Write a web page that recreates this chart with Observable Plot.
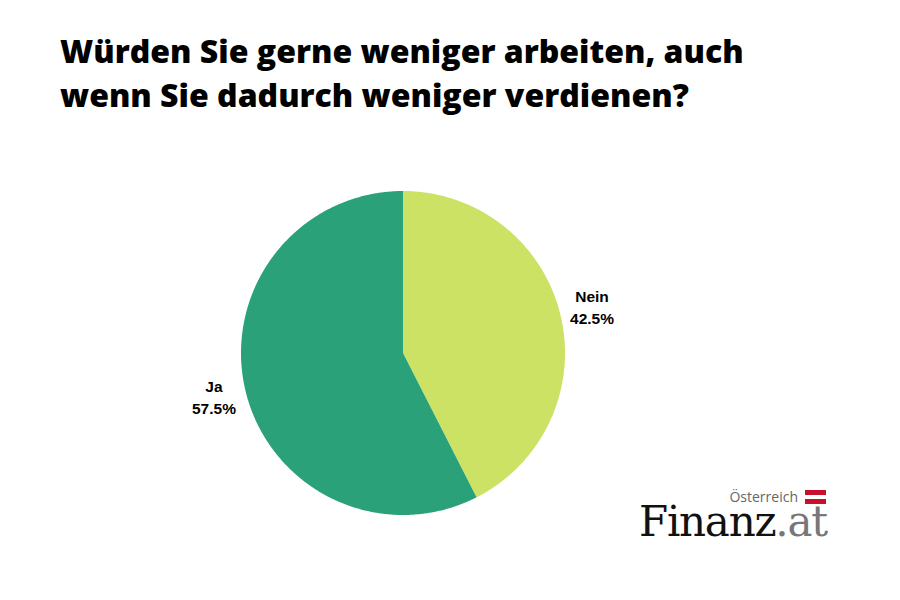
<!DOCTYPE html>
<html>
<head>
<meta charset="utf-8">
<script src="https://cdn.jsdelivr.net/npm/d3@7"></script>
<script src="https://cdn.jsdelivr.net/npm/@observablehq/plot@0.6"></script>
<style>
  html, body { margin: 0; padding: 0; background: #fff; }
  body { position: relative; width: 900px; height: 600px; overflow: hidden; }
  #title {
    position: absolute; left: 60px; top: 29px; margin: 0;
    font: 800 32px/44px "Open Sans", sans-serif; color: #000;
  }
  #chart { position: absolute; left: 0; top: 130px; }
  #chart svg { display: block; }
  #land { position: absolute; right: 102px; top: 489px; font: 14px/16px "Open Sans", sans-serif; color: #666; }
  #flag { position: absolute; left: 805px; top: 490px; width: 21px; height: 14px; background: linear-gradient(#c8102e 36%, #fff 36%, #fff 64%, #c8102e 64%); }
  #logo { position: absolute; left: 639px; top: 506px; font: 42px/32px "DejaVu Serif", serif; letter-spacing: -1.25px; color: #111; white-space: nowrap; }
  #logo span { color: #777; }
</style>
</head>
<body>
<h1 id="title">Würden Sie gerne weniger arbeiten, auch<br>wenn Sie dadurch weniger verdienen?</h1>
<div id="chart"></div>
<div id="land">Österreich</div>
<div id="flag"></div>
<div id="logo">Finanz<span>.at</span></div>
<script>
const antworten = ['Nein', 'Ja'];
const anteile = [42.5, 57.5];
const farben = ['#cbe265', '#2ba17a'];

// pie is in unit coordinates, radius 1 = 162px
const radius = 162, width = 900, height = 470, cx = 402.5, cy = 222.5;

let punkte = [];
let labels = [];
let start = 0;
antworten.forEach((a, i) => {
  let end = start + anteile[i];
  punkte.push({a, x: 0, y: 0});
  for (let p = start; p <= end; p += 0.1) {
    let w = p / 100 * 2 * Math.PI;
    punkte.push({a, x: Math.sin(w), y: Math.cos(w)});
  }
  let we = end / 100 * 2 * Math.PI;
  punkte.push({a, x: Math.sin(we), y: Math.cos(we)});
  let mid = (start + end) / 2 / 100 * 2 * Math.PI;
  labels.push({
    x: 1.2 * Math.sin(mid),
    y: 1.2 * Math.cos(mid),
    text: a + '\n' + anteile[i] + '%'
  });
  start = end;
});

let chart = Plot.plot({
  width: width,
  height: height,
  margin: 0,
  x: {domain: [-cx / radius, (width - cx) / radius], axis: null},
  y: {domain: [-(height - cy) / radius, cy / radius], axis: null},
  color: {domain: antworten, range: farben},
  marks: [
    Plot.line(punkte, {x: 'x', y: 'y', z: 'a', fill: 'a', stroke: null, curve: 'linear'}),
    Plot.text(labels, {
      x: 'x', y: 'y', text: 'text', dy: -2,
      fontFamily: 'Liberation Sans', fontWeight: 'bold', fontSize: 15.5,
      lineHeight: 1.42, fill: '#000'
    })
  ]
});

d3.select('#chart').append(() => chart);
</script>
</body>
</html>
